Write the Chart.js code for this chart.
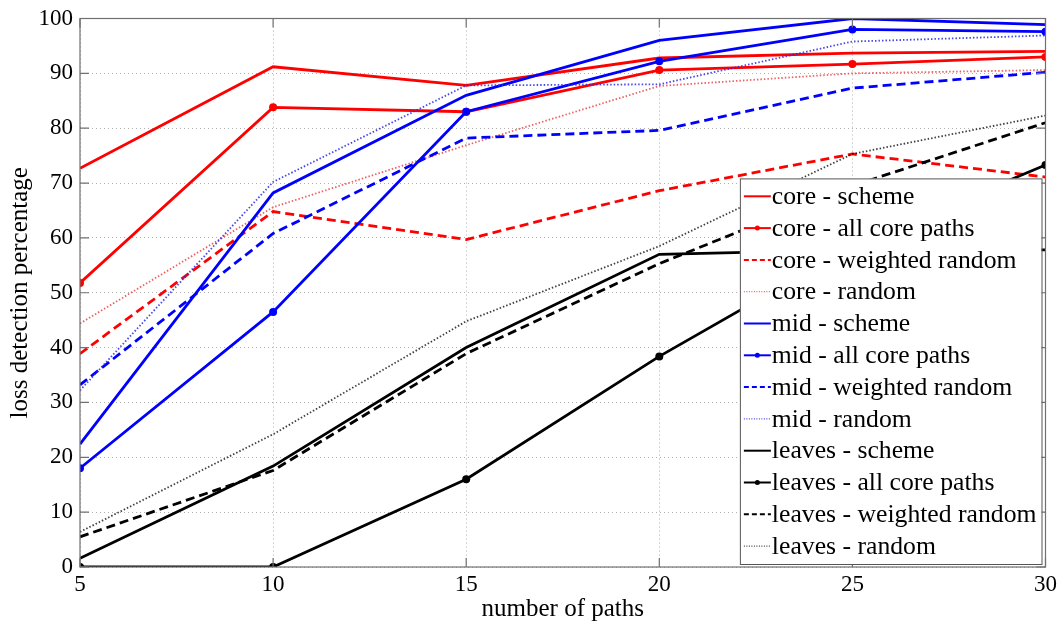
<!DOCTYPE html>
<html>
<head>
<meta charset="utf-8">
<script src="https://cdn.jsdelivr.net/npm/chart.js@4.4.1/dist/chart.umd.min.js"></script>
<style>
    html, body { margin: 0; padding: 0; background: #fff; }
    #wrap { width: 1063px; height: 624px; position: relative; }
</style>
</head>
<body>
<div id="wrap"><canvas id="lossChart"></canvas></div>
<script>
// Data
const numPaths = [5, 10, 15, 20, 25, 30];
const yTicks = [0, 10, 20, 30, 40, 50, 60, 70, 80, 90, 100];

const coreScheme     = [72.7, 91.2, 87.8, 92.8, 93.7, 94.0];
const coreAllPaths   = [51.8, 83.8, 83.0, 90.6, 91.7, 93.0];
const coreWeighted   = [38.9, 64.8, 59.7, 68.6, 75.3, 71.1];
const coreRandom     = [44.4, 65.6, 76.9, 87.7, 90.0, 90.6];
const midScheme      = [22.4, 68.2, 86.0, 96.0, 100, 98.9];
const midAllPaths    = [18.0, 46.5, 83.0, 92.2, 98.0, 97.6];
const midWeighted    = [33.2, 60.8, 78.2, 79.6, 87.3, 90.2];
const midRandom      = [32.2, 70.2, 87.8, 88.0, 95.8, 96.9];
const leavesScheme   = [1.6, 18.4, 40.0, 57.0, 57.8, 57.8];
const leavesAllPaths = [0, 0, 16.0, 38.4, 58.5, 73.3];
const leavesWeighted = [5.5, 17.6, 38.9, 55.3, 69.5, 81.0];
const leavesRandom   = [6.4, 24.2, 44.8, 58.5, 75.3, 82.3];

const serif = "'Liberation Serif', 'Times New Roman', serif";

function toPoints(values) {
    return values.map((v, i) => ({ x: numPaths[i], y: v }));
}

// kind: scheme | all | weighted | random
function makeSet(label, values, color, kind) {
    const set = {
        label: label,
        data: toPoints(values),
        borderColor: color,
        backgroundColor: color,
        borderWidth: 2.8,
        pointRadius: 0,
        tension: 0,
        fill: false
    };
    if (kind === 'all') {
        set.pointRadius = 4;
        set.pointBorderWidth = 0;
    } else if (kind === 'weighted') {
        set.borderDash = [9, 5];
    } else if (kind === 'random') {
        set.borderWidth = 1.8;
        set.borderDash = [1.5, 2];
        set.borderColor = color === '#000000' ? 'rgba(0,0,0,0.75)' : (color === '#ff0000' ? 'rgba(230,60,60,0.8)' : 'rgba(40,40,230,0.85)');
    }
    set.kind = kind;
    return set;
}

const datasets = [
    makeSet('core - scheme', coreScheme, '#ff0000', 'scheme'),
    makeSet('core - all core paths', coreAllPaths, '#ff0000', 'all'),
    makeSet('core - weighted random', coreWeighted, '#ff0000', 'weighted'),
    makeSet('core - random', coreRandom, '#ff0000', 'random'),
    makeSet('mid - scheme', midScheme, '#0000ff', 'scheme'),
    makeSet('mid - all core paths', midAllPaths, '#0000ff', 'all'),
    makeSet('mid - weighted random', midWeighted, '#0000ff', 'weighted'),
    makeSet('mid - random', midRandom, '#0000ff', 'random'),
    makeSet('leaves - scheme', leavesScheme, '#000000', 'scheme'),
    makeSet('leaves - all core paths', leavesAllPaths, '#000000', 'all'),
    makeSet('leaves - weighted random', leavesWeighted, '#000000', 'weighted'),
    makeSet('leaves - random', leavesRandom, '#000000', 'random')
];
// later series drawn on top, like the original plot
datasets.forEach((d, i) => { d.order = datasets.length - i; });

// Box around the axes with small inward tick marks
const axesBox = {
    id: 'axesBox',
    afterDatasetsDraw(chart) {
        const ctx = chart.ctx;
        const a = chart.chartArea;
        const xs = chart.scales.x, ys = chart.scales.y;
        ctx.save();
        ctx.strokeStyle = '#707070';
        ctx.lineWidth = 1.2;
        ctx.strokeRect(a.left, a.top, a.right - a.left, a.bottom - a.top);
        ctx.beginPath();
        numPaths.forEach(v => {
            const px = xs.getPixelForValue(v);
            ctx.moveTo(px, a.bottom); ctx.lineTo(px, a.bottom - 9);
            ctx.moveTo(px, a.top); ctx.lineTo(px, a.top + 9);
        });
        yTicks.forEach(v => {
            const py = ys.getPixelForValue(v);
            ctx.moveTo(a.left, py); ctx.lineTo(a.left + 9, py);
            ctx.moveTo(a.right, py); ctx.lineTo(a.right - 9, py);
        });
        ctx.stroke();
        ctx.restore();
    }
};

// MATLAB-style legend box in the lower right of the plot
const boxLegend = {
    id: 'boxLegend',
    afterDraw(chart) {
        const ctx = chart.ctx;
        const a = chart.chartArea;
        const sets = chart.data.datasets;
        const rowH = 31.8;
        const fontSize = 25.7;
        ctx.save();
        ctx.font = fontSize + 'px ' + serif;
        let maxW = 0;
        sets.forEach(s => { maxW = Math.max(maxW, ctx.measureText(s.label).width); });
        const w = 4 + 27 + 1 + maxW + 5;
        const h = rowH * sets.length + 4;
        const x0 = a.right - 4 - w;
        const y0 = a.bottom - 3 - h;
        ctx.fillStyle = '#ffffff';
        ctx.fillRect(x0, y0, w, h);
        ctx.strokeStyle = '#555555';
        ctx.lineWidth = 1;
        ctx.strokeRect(x0 + 0.5, y0 + 0.5, w, h);
        sets.forEach((s, i) => {
            const cy = y0 + 2 + rowH * (i + 0.5);
            ctx.beginPath();
            ctx.strokeStyle = s.borderColor;
            ctx.lineWidth = s.kind === 'random' ? 1.2 : 2;
            ctx.setLineDash(s.kind === 'weighted' ? [5, 3] : (s.kind === 'random' ? [1, 1.5] : []));
            ctx.moveTo(x0 + 4, cy);
            ctx.lineTo(x0 + 31, cy);
            ctx.stroke();
            ctx.setLineDash([]);
            if (s.kind === 'all') {
                ctx.beginPath();
                ctx.fillStyle = s.borderColor;
                ctx.arc(x0 + 17.5, cy, 2.5, 0, Math.PI * 2);
                ctx.fill();
            }
            ctx.fillStyle = '#000000';
            ctx.textBaseline = 'middle';
            ctx.fillText(s.label, x0 + 32, cy + 1);
        });
        ctx.restore();
    }
};

document.addEventListener('DOMContentLoaded', function() {
    const ctx = document.getElementById('lossChart');
    new Chart(ctx, {
        type: 'line',
        data: { datasets: datasets },
        options: {
            responsive: true,
            maintainAspectRatio: false,
            animation: false,
            layout: { padding: { top: 16, right: 16, left: 0, bottom: 0 } },
            plugins: {
                legend: { display: false },
                tooltip: { enabled: false }
            },
            scales: {
                x: {
                    type: 'linear',
                    min: 5,
                    max: 30,
                    afterBuildTicks: function(scale) {
                        scale.ticks = numPaths.map(v => ({ value: v }));
                    },
                    afterFit: function(scale) { scale.height = 57; },
                    grid: { color: '#b0b0b0', lineWidth: 1, drawTicks: false },
                    border: { display: false, dash: [1, 3] },
                    ticks: {
                        color: '#000',
                        padding: 6,
                        maxRotation: 0,
                        font: { family: serif, size: 23, lineHeight: 1 }
                    },
                    title: {
                        display: true,
                        text: 'number of paths',
                        color: '#000',
                        padding: { top: 2, bottom: 0 },
                        font: { family: serif, size: 25 }
                    }
                },
                y: {
                    min: 0,
                    max: 100,
                    afterBuildTicks: function(scale) {
                        scale.ticks = yTicks.map(v => ({ value: v }));
                    },
                    afterFit: function(scale) { scale.width = 80; },
                    grid: { color: '#b0b0b0', lineWidth: 1, drawTicks: false },
                    border: { display: false, dash: [1, 3] },
                    ticks: {
                        color: '#000',
                        padding: 7,
                        font: { family: serif, size: 23, lineHeight: 1 }
                    },
                    title: {
                        display: true,
                        text: 'loss detection percentage',
                        color: '#000',
                        padding: { top: 5, bottom: 0 },
                        font: { family: serif, size: 25 }
                    }
                }
            }
        },
        plugins: [axesBox, boxLegend]
    });
});
</script>
</body>
</html>
